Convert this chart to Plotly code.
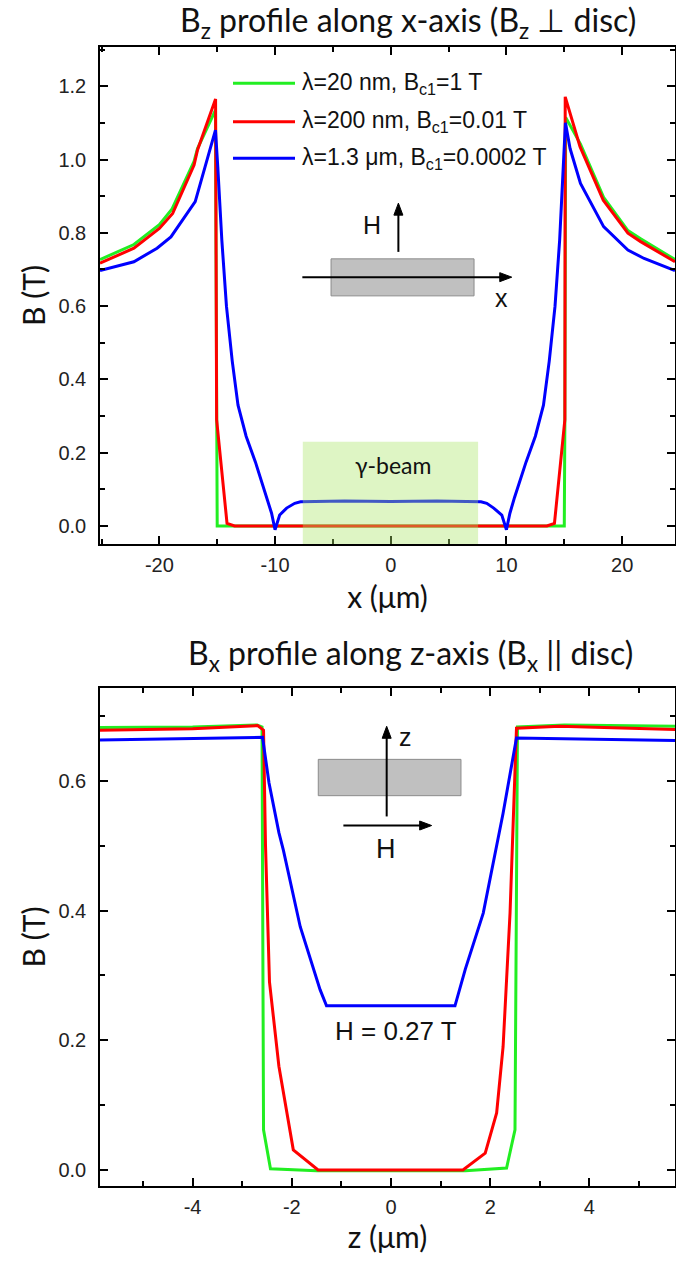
import math
import plotly.graph_objects as go

W, H = 676, 1266

# ---------------- data: top panel (Bz along x) ----------------
x_green_top = [-25.13, -22.2, -20.0, -18.9, -17.0, -16.7, -15.15, -15.05, -15.0,
               15.0, 15.05, 15.12, 15.9, 16.4, 18.4, 20.5, 21.6, 24.57]
B_green_top = [0.727, 0.768, 0.822, 0.865, 0.995, 1.03, 1.135, 0.28, 0.0,
               0.0, 0.28, 1.115, 1.07, 1.042, 0.897, 0.806, 0.784, 0.727]

x_red_top = [-25.13, -22.2, -20.0, -18.85, -17.0, -16.7, -15.14, -15.05, -14.15, -13.5,
             13.5, 14.15, 15.05, 15.08, 16.36, 18.37, 20.5, 21.6, 24.57]
B_red_top = [0.717, 0.758, 0.812, 0.853, 0.985, 1.026, 1.165, 0.29, 0.007, 0.0,
             0.0, 0.007, 0.29, 1.171, 1.035, 0.889, 0.799, 0.776, 0.721]

x_blue_top = [-25.13, -22.2, -20.2, -19.0, -16.9, -15.15, -14.95, -14.6, -14.2, -13.7,
              -13.2, -12.5, -11.7, -10.7, -10.3, -10.0, -9.6, -9.0, -8.3, -7.8,
              -4.0, 0.0, 4.0, 7.8, 8.3, 8.9, 9.6, 10.0, 10.3, 10.7,
              11.7, 12.5, 13.2, 13.7, 14.2, 14.6, 14.95, 15.1, 15.5, 16.4,
              18.4, 20.5, 21.9, 24.57]
B_blue_top = [0.697, 0.721, 0.758, 0.789, 0.885, 1.08, 0.98, 0.78, 0.60, 0.45,
              0.33, 0.245, 0.175, 0.078, 0.035, -0.01, 0.03, 0.049, 0.062, 0.066,
              0.068, 0.067, 0.068, 0.066, 0.062, 0.049, 0.03, -0.01, 0.035, 0.078,
              0.175, 0.245, 0.33, 0.45, 0.60, 0.78, 0.98, 1.10, 1.03, 0.935,
              0.817, 0.753, 0.730, 0.697]

# ---------------- data: bottom panel (Bx along z) ----------------
z_green_bot = [-5.87, -4.0, -2.7, -2.6, -2.57, -2.43, -1.5, 0.0, 1.5, 2.33, 2.5, 2.55, 3.5, 5.73]
B_green_bot = [0.682, 0.683, 0.686, 0.683, 0.062, 0.002, -0.001, -0.001, -0.001, 0.003, 0.062, 0.683, 0.686, 0.684]

z_red_bot = [-5.87, -4.0, -2.69, -2.57, -2.53, -2.45, -2.26, -1.97, -1.47,
             1.45, 1.9, 2.13, 2.26, 2.4, 2.53, 3.4, 5.73]
B_red_bot = [0.678, 0.680, 0.685, 0.678, 0.50, 0.29, 0.16, 0.031, 0.0,
             0.0, 0.026, 0.088, 0.19, 0.396, 0.681, 0.684, 0.679]

z_blue_bot = [-5.87, -2.59, -2.46, -2.26, -2.17, -1.83, -1.43, -1.30, 0.0,
              1.29, 1.5, 1.86, 2.26, 2.53, 5.73]
B_blue_bot = [0.663, 0.667, 0.597, 0.52, 0.493, 0.375, 0.278, 0.253, 0.253,
              0.253, 0.31, 0.396, 0.55, 0.666, 0.662]

legend_labels = ["λ=20 nm, B<sub>c1</sub>=1 T",
                 "λ=200 nm, B<sub>c1</sub>=0.01 T",
                 "λ=1.3 μm, B<sub>c1</sub>=0.0002 T"]
colors = ["#22ee22", "#ff0000", "#0000ff"]

x_ticks_top = [-20, -10, 0, 10, 20]
y_ticks_top = [0.0, 0.2, 0.4, 0.6, 0.8, 1.0, 1.2]
z_ticks_bot = [-4, -2, 0, 2, 4]
y_ticks_bot = [0.0, 0.2, 0.4, 0.6]

# ---------------- figure ----------------
def px(p):
    return p / W

def py(p):
    return 1 - p / H

X_RANGE_TOP = [-25.13, 24.57]
Y_RANGE_TOP = [-0.049, 1.307]
X_RANGE_BOT = [-5.867, 5.726]
Y_RANGE_BOT = [-0.0247, 0.743]
DOM_X = [100, 675]
DOM_TOP = [47, 544]
DOM_BOT = [688, 1186]

fig = go.Figure()
top_series = [(x_green_top, B_green_top), (x_red_top, B_red_top), (x_blue_top, B_blue_top)]
bot_series = [(z_green_bot, B_green_bot), (z_red_bot, B_red_bot), (z_blue_bot, B_blue_bot)]
for (xs, ys), c, name in zip(top_series, colors, legend_labels):
    fig.add_trace(go.Scatter(x=xs, y=ys, mode="lines", name=name,
                             line=dict(color=c, width=3), xaxis="x", yaxis="y",
                             showlegend=False))
for (xs, ys), c, name in zip(bot_series, colors, legend_labels):
    fig.add_trace(go.Scatter(x=xs, y=ys, mode="lines", name=name,
                             line=dict(color=c, width=3), xaxis="x2", yaxis="y2",
                             showlegend=False))

ARIAL = "Liberation Sans, Arial, sans-serif"
TFONT = "Lato, sans-serif"
tickfont = dict(family=ARIAL, size=20, color="#222")
titlefont = dict(family=TFONT, size=30, color="#111")


def axis_common():
    return dict(showline=True, linecolor="black", linewidth=1.5, mirror="allticks",
                ticks="inside", ticklen=8, tickwidth=1.5, tickcolor="black",
                showgrid=False, zeroline=False, tickfont=tickfont)


def minor(d):
    return dict(dtick=d, ticks="inside", ticklen=5, tickwidth=1.5, tickcolor="black")


def hyph(v, fmt):
    return fmt % v


xd = [px(DOM_X[0]), px(DOM_X[1])]
fig.update_layout(
    width=W, height=H, margin=dict(l=0, r=0, t=0, b=0),
    paper_bgcolor="white", plot_bgcolor="white",
    xaxis=dict(domain=xd, range=X_RANGE_TOP, tickvals=x_ticks_top,
               ticktext=[hyph(v, "%d") for v in x_ticks_top],
               minor=minor(5), ticklabelstandoff=2,
               title=dict(text="x (μm)", font=titlefont, standoff=12),
               anchor="y", **axis_common()),
    yaxis=dict(domain=[py(DOM_TOP[1]), py(DOM_TOP[0])], range=Y_RANGE_TOP,
               tickvals=y_ticks_top, ticktext=[hyph(v, "%.1f") for v in y_ticks_top],
               minor=minor(0.1), ticklabelstandoff=8,
               title=dict(text="B (T)", font=titlefont, standoff=4),
               anchor="x", **axis_common()),
    xaxis2=dict(domain=xd, range=X_RANGE_BOT, tickvals=z_ticks_bot,
                ticktext=[hyph(v, "%d") for v in z_ticks_bot],
                minor=minor(1), ticklabelstandoff=2,
                title=dict(text="z (μm)", font=titlefont, standoff=10),
                anchor="y2", **axis_common()),
    yaxis2=dict(domain=[py(DOM_BOT[1]), py(DOM_BOT[0])], range=Y_RANGE_BOT,
                tickvals=y_ticks_bot, ticktext=[hyph(v, "%.1f") for v in y_ticks_bot],
                minor=minor(0.1), ticklabelstandoff=8,
                title=dict(text="B (T)", font=titlefont, standoff=4),
                anchor="x2", **axis_common()),
)

shapes = []
annotations = []

# scale factors (pixels per data unit) for arrow heads
SX_TOP = (DOM_X[1] - DOM_X[0]) / (X_RANGE_TOP[1] - X_RANGE_TOP[0])
SY_TOP = (DOM_TOP[1] - DOM_TOP[0]) / (Y_RANGE_TOP[1] - Y_RANGE_TOP[0])
SX_BOT = (DOM_X[1] - DOM_X[0]) / (X_RANGE_BOT[1] - X_RANGE_BOT[0])
SY_BOT = (DOM_BOT[1] - DOM_BOT[0]) / (Y_RANGE_BOT[1] - Y_RANGE_BOT[0])


def arrow(xr, yr, x0, y0, x1, y1, sx, sy, L=12, hw=4.5):
    dxp, dyp = (x1 - x0) * sx, (y1 - y0) * sy
    n = math.hypot(dxp, dyp)
    ux, uy = dxp / n, dyp / n
    bx, by = x1 - L * ux / sx, y1 - L * uy / sy
    ox, oy = -uy * hw / sx, ux * hw / sy
    shapes.append(dict(type="line", xref=xr, yref=yr, x0=x0, y0=y0, x1=bx + ux * 2 / sx,
                       y1=by + uy * 2 / sy, line=dict(color="black", width=2)))
    shapes.append(dict(type="path", xref=xr, yref=yr,
                       path=f"M {x1},{y1} L {bx + ox},{by + oy} L {bx - ox},{by - oy} Z",
                       fillcolor="black", line=dict(color="black", width=1)))


# titles
annotations.append(dict(text="B<sub>z</sub> profile along x-axis (B<sub>z</sub> ⊥ disc)",
                        xref="paper", yref="paper", x=px(408), y=py(22), showarrow=False,
                        xanchor="center", yanchor="middle",
                        font=dict(family=TFONT, size=32, color="#111")))
annotations.append(dict(text="B<sub>x</sub> profile along z-axis (B<sub>x</sub> || disc)",
                        xref="paper", yref="paper", x=px(410), y=py(655), showarrow=False,
                        xanchor="center", yanchor="middle",
                        font=dict(family=TFONT, size=32, color="#111")))

# manual legend (top panel)
leg_rows = [83.3, 121.7, 158.3]
for yy, c, lab in zip(leg_rows, colors, legend_labels):
    shapes.append(dict(type="line", xref="paper", yref="paper", x0=px(233), x1=px(295),
                       y0=py(yy), y1=py(yy), line=dict(color=c, width=3)))
    annotations.append(dict(text=lab, xref="paper", yref="paper", x=px(300), y=py(yy),
                            xanchor="left", yanchor="middle", showarrow=False,
                            font=dict(family=ARIAL, size=23, color="#111")))

# gamma-beam region
shapes.append(dict(type="rect", xref="x", yref="y", x0=-7.6, x1=7.55, y0=Y_RANGE_TOP[0], y1=0.23,
                   fillcolor="rgb(170,230,103)", opacity=0.39, line=dict(width=0), layer="above"))
annotations.append(dict(text="γ-beam", xref="x", yref="y", x=0.2, y=0.166, showarrow=False,
                        font=dict(family=TFONT, size=23, color="#111")))

# top inset: disc + axes
shapes.append(dict(type="rect", xref="x", yref="y", x0=-5.16, x1=7.2, y0=0.628, y1=0.729,
                   fillcolor="rgb(192,192,192)", line=dict(color="rgb(140,140,140)", width=1)))
arrow("x", "y", -7.64, 0.679, 10.46, 0.679, SX_TOP, SY_TOP)
arrow("x", "y", 0.66, 0.748, 0.66, 0.881, SX_TOP, SY_TOP)
annotations.append(dict(text="H", xref="x", yref="y", x=-1.6, y=0.82, showarrow=False,
                        font=dict(family=ARIAL, size=25, color="#111")))
annotations.append(dict(text="x", xref="x", yref="y", x=9.6, y=0.622, showarrow=False,
                        font=dict(family=ARIAL, size=25, color="#111")))

# bottom inset
shapes.append(dict(type="rect", xref="x2", yref="y2", x0=-1.466, x1=1.411, y0=0.577, y1=0.633,
                   fillcolor="rgb(192,192,192)", line=dict(color="rgb(140,140,140)", width=1)))
arrow("x2", "y2", -0.087, 0.545, -0.087, 0.684, SX_BOT, SY_BOT)
arrow("x2", "y2", -0.96, 0.531, 0.82, 0.531, SX_BOT, SY_BOT)
annotations.append(dict(text="z", xref="x2", yref="y2", x=0.3, y=0.668, showarrow=False,
                        font=dict(family=ARIAL, size=25, color="#111")))
annotations.append(dict(text="H", xref="x2", yref="y2", x=-0.1, y=0.495, showarrow=False,
                        font=dict(family=ARIAL, size=27, color="#111")))
annotations.append(dict(text="H = 0.27 T", xref="x2", yref="y2", x=0.1, y=0.214, showarrow=False,
                        font=dict(family=ARIAL, size=26, color="#111")))

fig.update_layout(shapes=shapes, annotations=annotations)
fig.write_html("out.html", config={"displayModeBar": False},
               post_script="document.body.style.margin='0px';document.body.style.overflow='hidden';")
